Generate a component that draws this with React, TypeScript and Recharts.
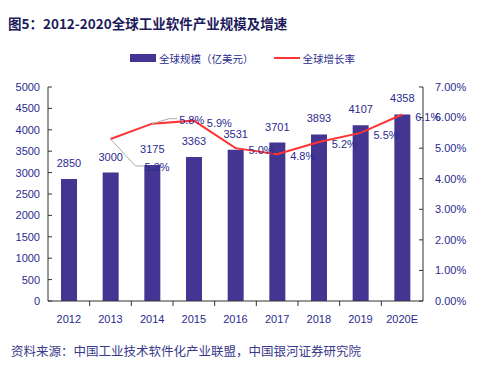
import React from 'react';
import { ComposedChart, Bar, Line, XAxis, YAxis, LabelList } from 'recharts';

const years = ['2012', '2013', '2014', '2015', '2016', '2017', '2018', '2019', '2020E'];
const scaleValues = [2850, 3000, 3175, 3363, 3531, 3701, 3893, 4107, 4358];
const growthValues: (number | null)[] = [null, 5.3, 5.8, 5.9, 5.0, 4.8, 5.2, 5.5, 6.1];
const leftTicks = [0, 500, 1000, 1500, 2000, 2500, 3000, 3500, 4000, 4500, 5000];
const rightTicks = [0, 1, 2, 3, 4, 5, 6, 7];

const data = years.map((y, i) => ({ year: y, scale: scaleValues[i], growth: growthValues[i] }));

const W = 494;
const H = 330;
const LEFT_W = 48;
const RIGHT_W = 71;
const BAND = (W - LEFT_W - RIGHT_W) / years.length;

const NUM_FONT = '"Liberation Sans", Arial, sans-serif';
const CJK_FONT = '"Noto Sans CJK SC", "Liberation Sans", sans-serif';
const TEXT_BLUE = '#2b2b8f';
const BAR_COLOR = '#433591';
const LINE_COLOR = '#ff3333';

const XTick = (props: any) => {
  const { x, y, payload, index } = props;
  const half = payload && typeof payload.offset === 'number' && payload.offset > 0 ? payload.offset : BAND / 2;
  const axisY = y - 12;
  return (
    <g>
      {index < years.length - 1 && (
        <line x1={x + half} x2={x + half} y1={axisY} y2={axisY + 5} stroke="#333" strokeWidth={1} />
      )}
      <text x={x} y={y + 6} textAnchor="middle" dominantBaseline="central" fill={TEXT_BLUE} fontSize={11} fontFamily={NUM_FONT}>
        {payload.value}
      </text>
    </g>
  );
};

const BarLabel = (props: any) => {
  const { x, y, width, value } = props;
  return (
    <text x={x + width / 2} y={y - 16} textAnchor="middle" dominantBaseline="central" fill={TEXT_BLUE} fontSize={11} fontFamily={NUM_FONT}>
      {value}
    </text>
  );
};

const LineLabel = (props: any) => {
  const { x, y, value, index } = props;
  if (value == null) return null;
  const txt = `${Number(value).toFixed(1)}%`;
  if (index === 1) {
    return (
      <g>
        <polyline points={`${x},${y} ${x + 25},${y + 27} ${x + 34},${y + 27}`} fill="none" stroke="#aaaaaa" strokeWidth={1} />
        <text x={x + 34} y={y + 28} textAnchor="start" dominantBaseline="central" fill={TEXT_BLUE} fontSize={11} fontFamily={NUM_FONT}>
          {txt}
        </text>
      </g>
    );
  }
  if (index === 2) {
    return (
      <g>
        <polyline points={`${x},${y} ${x + 17},${y - 5} ${x + 25},${y - 5}`} fill="none" stroke="#aaaaaa" strokeWidth={1} />
        <text x={x + 27} y={y - 4} textAnchor="start" dominantBaseline="central" fill={TEXT_BLUE} fontSize={11} fontFamily={NUM_FONT}>
          {txt}
        </text>
      </g>
    );
  }
  return (
    <text x={x + 13} y={y + 2} textAnchor="start" dominantBaseline="central" fill={TEXT_BLUE} fontSize={11} fontFamily={NUM_FONT}>
      {txt}
    </text>
  );
};

export default function App() {
  return (
    <div style={{ position: 'absolute', left: 0, top: 0, width: W, height: 374, background: '#fff' }}>
      <div
        style={{
          position: 'absolute',
          left: 8,
          top: 13,
          fontFamily: CJK_FONT,
          fontWeight: 'bold',
          fontSize: 13.5,
          color: '#1c1c5c',
          whiteSpace: 'nowrap',
          lineHeight: '20px',
        }}
      >
        图5：2012-2020全球工业软件产业规模及增速
      </div>
      <div style={{ position: 'absolute', left: 130, top: 49, height: 18, display: 'flex', alignItems: 'center', fontFamily: CJK_FONT, fontSize: 10.5, color: TEXT_BLUE, whiteSpace: 'nowrap' }}>
        <span style={{ display: 'inline-block', width: 26, height: 8, background: BAR_COLOR, marginRight: 3 }} />
        <span>全球规模（亿美元）</span>
        <span style={{ display: 'inline-block', width: 26, height: 2, background: LINE_COLOR, marginLeft: 20, marginRight: 3 }} />
        <span>全球增长率</span>
      </div>
      <div style={{ position: 'absolute', left: 0, top: 0 }}>
        <ComposedChart width={W} height={H} data={data} margin={{ top: 87, right: 0, bottom: 0, left: 0 }}>
          <XAxis
            dataKey="year"
            height={29}
            tickLine={false}
            tickSize={0}
            tickMargin={12}
            axisLine={{ stroke: '#333' }}
            tick={<XTick />}
            interval={0}
          />
          <YAxis
            yAxisId="left"
            orientation="left"
            width={LEFT_W}
            domain={[0, 5000]}
            ticks={leftTicks}
            interval={0}
            tickSize={-4}
            tickMargin={12}
            axisLine={{ stroke: '#333' }}
            tickLine={{ stroke: '#333' }}
            tick={{ fill: TEXT_BLUE, fontSize: 11, fontFamily: NUM_FONT }}
          />
          <YAxis
            yAxisId="right"
            orientation="right"
            width={RIGHT_W}
            domain={[0, 7]}
            ticks={rightTicks}
            interval={0}
            tickSize={-4}
            tickMargin={16}
            axisLine={{ stroke: '#333' }}
            tickLine={{ stroke: '#333' }}
            tickFormatter={(v: number) => `${v.toFixed(2)}%`}
            tick={{ fill: TEXT_BLUE, fontSize: 11, fontFamily: NUM_FONT, textAnchor: 'start' }}
          />
          <Bar yAxisId="left" dataKey="scale" fill={BAR_COLOR} barSize={16} isAnimationActive={false}>
            <LabelList dataKey="scale" content={<BarLabel />} />
          </Bar>
          <Line
            yAxisId="right"
            dataKey="growth"
            stroke={LINE_COLOR}
            strokeWidth={2}
            dot={false}
            activeDot={false}
            isAnimationActive={false}
          >
            <LabelList dataKey="growth" content={<LineLabel />} />
          </Line>
        </ComposedChart>
      </div>
      <div style={{ position: 'absolute', left: 11, top: 342, fontFamily: CJK_FONT, fontSize: 12.5, color: '#3a3a8a', whiteSpace: 'nowrap', lineHeight: '18px' }}>
        资料来源：中国工业技术软件化产业联盟，中国银河证券研究院
      </div>
    </div>
  );
}
